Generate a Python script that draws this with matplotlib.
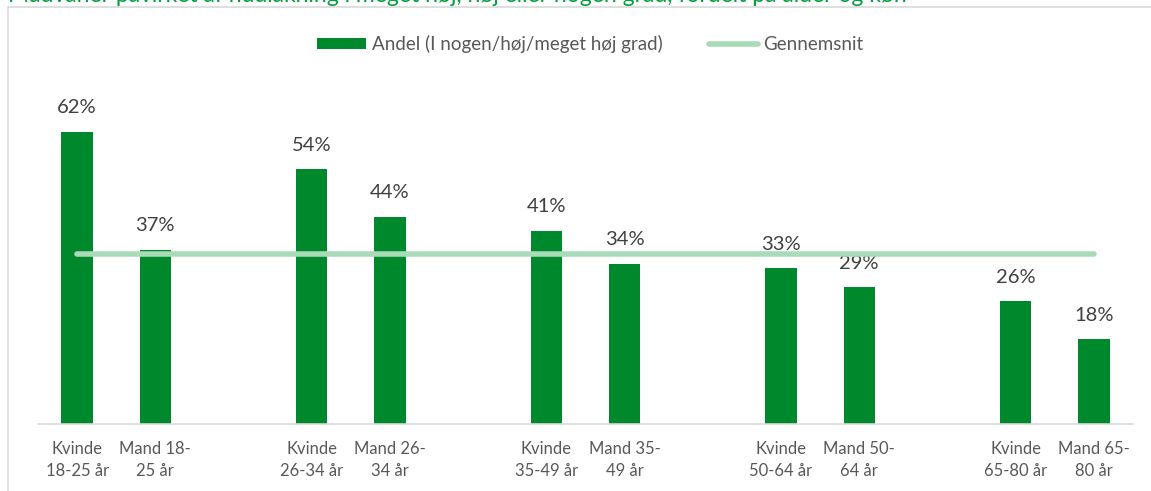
import matplotlib
matplotlib.use("Agg")
import matplotlib.pyplot as plt
from matplotlib.patches import Rectangle
from matplotlib.lines import Line2D
from matplotlib.patches import Patch

plt.rcParams['font.family'] = ['Lato', 'DejaVu Sans']

# data (blank slots separate age groups)
labels = ["Kvinde\n18-25 år", "Mand 18-\n25 år", "",
          "Kvinde\n26-34 år", "Mand 26-\n34 år", "",
          "Kvinde\n35-49 år", "Mand 35-\n49 år", "",
          "Kvinde\n50-64 år", "Mand 50-\n64 år", "",
          "Kvinde\n65-80 år", "Mand 65-\n80 år"]
values = [62, 37, None, 54, 44, None, 41, 34, None, 33, 29, None, 26, 18]
average = 36

title = "Madvaner påvirket af hudlakning i meget høj, høj eller nogen grad, fordelt på alder og køn"

bar_color = "#00892C"
avg_color = "#AADBB8"
text_color = "#404040"
tick_color = "#595959"

fig = plt.figure(figsize=(11.51, 4.91), dpi=100)

# outer chart border
fig.patches.append(Rectangle((8 / 1151, -0.1), 1.1, 1 - 7 / 491 + 0.1,
                             transform=fig.transFigure, fill=False,
                             edgecolor="#D9D9D9", linewidth=1.2))
# clipped title at top
fig.text(8 / 1151, 1 - 2 / 491, title, color="#00A03C", fontsize=16.5,
         va="baseline", ha="left")

ax = fig.add_axes([38 / 1151, 1 - 424 / 491, (1133 - 38) / 1151, 330 / 491])

xs = [i for i, v in enumerate(values) if v is not None]
vs = [v for v in values if v is not None]
ax.bar(xs, vs, width=0.4, color=bar_color, zorder=2)
for x, v in zip(xs, vs):
    ax.text(x, v + 3.3, f"{v}%", ha="center", va="bottom",
            fontsize=14.5, color=text_color)

ax.plot([xs[0], xs[-1]], [average, average], color=avg_color,
        linewidth=4, solid_capstyle="round", zorder=3)

ax.set_xlim(-0.5, len(values) - 0.5)
ax.set_ylim(0, 70)
ax.set_xticks(range(len(values)))
ax.set_xticklabels(labels, fontsize=12, color=tick_color, linespacing=1.45)
ax.tick_params(axis="x", length=0, pad=12)
ax.set_yticks([])
for s in ["top", "right", "left"]:
    ax.spines[s].set_visible(False)
ax.spines["bottom"].set_color("#D9D9D9")
ax.spines["bottom"].set_linewidth(1.2)

handles = [Patch(facecolor=bar_color, edgecolor="none"),
           Line2D([0], [0], color=avg_color, linewidth=4, solid_capstyle="round")]
fig.legend(handles, ["Andel (I nogen/høj/meget høj grad)", "Gennemsnit"],
           loc="center", bbox_to_anchor=(0.513, 1 - 44 / 491), ncol=2,
           frameon=False, fontsize=13.5, labelcolor=tick_color,
           handlelength=2.6, handleheight=0.55, handletextpad=0.3,
           columnspacing=2.5)

fig.savefig("out.png", dpi=100)
